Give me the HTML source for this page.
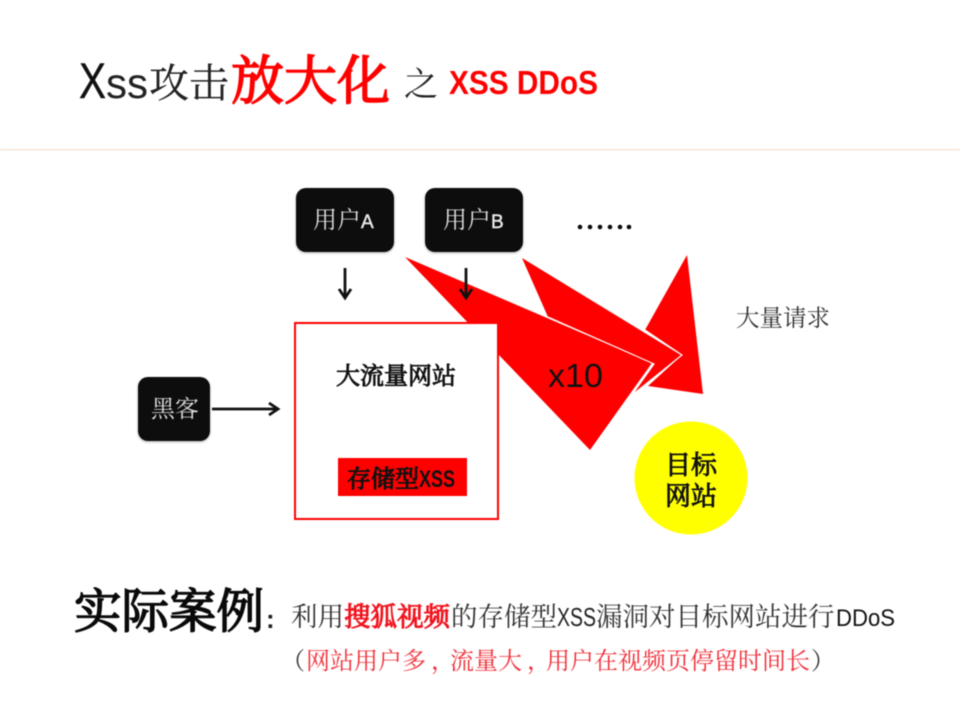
<!DOCTYPE html>
<html><head><meta charset="utf-8">
<style>
html,body{margin:0;padding:0;background:#fff}
#p{position:relative;width:960px;height:720px;overflow:hidden;background:#fff;filter:blur(0.55px)}
svg{position:absolute;left:0;top:0}
text{font-family:"Liberation Sans","Noto Serif CJK SC",serif}
.s{font-family:"Liberation Sans","Noto Sans CJK SC",sans-serif}
.r{fill:#f00}
</style></head><body><div id="p">
<svg width="960" height="720" viewBox="0 0 960 720" xmlns="http://www.w3.org/2000/svg">
<defs><filter id="sh" x="-20%" y="-20%" width="140%" height="140%"><feDropShadow dx="0" dy="1" stdDeviation="1.2" flood-color="#000" flood-opacity=".3"/></filter></defs>
<rect x="0" y="149" width="960" height="1.5" fill="#f6e6d6"/>

<!-- title -->
<text y="98" font-size="50" x="79" class="s" fill="#111" stroke="#111" stroke-width=".4" textLength="27" lengthAdjust="spacingAndGlyphs">X</text>
<text y="98" font-size="43" x="106" class="s" fill="#222" textLength="42" lengthAdjust="spacingAndGlyphs">ss</text>
<text y="97" font-size="40" x="149" fill="#222" stroke="#222" stroke-width=".25">攻击</text>
<text y="99" font-size="53" x="231" class="r" stroke="#f00" stroke-width="1.6">放大化</text>
<text y="96" font-size="34" x="404" fill="#222">之</text>
<text y="94" font-size="33" x="449" class="r s" font-weight="700" textLength="149" lengthAdjust="spacingAndGlyphs">XSS DDoS</text>

<!-- red arrows -->
<polygon points="687,255 703,394 648,386 682,355 645,330" fill="#f00"/>
<polygon points="522,258 681,355 632,395 654,364 548,317" fill="#f00"/>
<polyline points="645,330 682,355 632,395" fill="none" stroke="#fff" stroke-width="1.1"/>
<polygon points="405,257 652,363 590,450" fill="#f00"/>
<polyline points="548,317 654,364 632,395" fill="none" stroke="#fff" stroke-width="1.1"/>

<!-- nodes -->
<rect x="296" y="188" width="98" height="64" rx="10" fill="#0c0c0c" filter="url(#sh)"/>
<rect x="425" y="188" width="98" height="64" rx="10" fill="#0c0c0c" filter="url(#sh)"/>
<rect x="138" y="377" width="72" height="64" rx="10" fill="#0c0c0c" filter="url(#sh)"/>
<text x="313" y="228" font-size="24" fill="#ddd">用户</text>
<text x="361" y="228" font-size="19" class="s" fill="#eee" stroke="#eee" stroke-width=".4">A</text>
<text x="443" y="228" font-size="24" fill="#ddd">用户</text>
<text x="491" y="228" font-size="19" class="s" fill="#eee" stroke="#eee" stroke-width=".4">B</text>
<text x="151" y="417" font-size="24" fill="#ddd">黑客</text>

<g fill="#0a0a0a">
<circle cx="580" cy="227" r="2.3"/><circle cx="590" cy="227" r="2.3"/><circle cx="600" cy="227" r="2.3"/><circle cx="610" cy="227" r="2.3"/><circle cx="620" cy="227" r="2.3"/><circle cx="629" cy="227" r="2.3"/>
</g>

<!-- black arrows -->
<g fill="none" stroke="#111" stroke-width="2.8">
<path d="M345 268V298M339 289L345 298L351 289"/>
<path d="M466 268V298M460 289L466 298L472 289"/>
<path d="M212 409H278M269 403L278 409L269 415"/>
</g>

<!-- site box -->
<rect x="295" y="323" width="203" height="196" fill="#fff" stroke="#f00" stroke-width="2"/>
<text x="336" y="384" font-size="24" fill="#111" stroke="#111" stroke-width=".9">大流量网站</text>
<rect x="338" y="458" width="129" height="38" fill="#f00"/>
<text x="347" y="487" font-size="24" fill="#111" stroke="#111" stroke-width="1">存储型</text>
<text x="419" y="487" font-size="24" class="s" fill="#111" font-weight="700" textLength="36" lengthAdjust="spacingAndGlyphs">XSS</text>

<text x="548" y="387" font-size="33" class="s" fill="#111" textLength="55" lengthAdjust="spacingAndGlyphs">x10</text>
<text x="736" y="326" font-size="23.5" fill="#333">大量请求</text>

<!-- target -->
<circle cx="691" cy="478" r="56.5" fill="#ff0"/>
<text x="665" y="474" font-size="26" fill="#111" stroke="#111" stroke-width=".9">目标</text>
<text x="665" y="505" font-size="26" fill="#111" stroke="#111" stroke-width=".9">网站</text>

<!-- bottom -->
<text x="74" y="628" font-size="47.5" fill="#0a0a0a" stroke="#0a0a0a" stroke-width="1.5">实际案例</text>
<text x="266" y="628" font-size="26" fill="#222" font-weight="700">:</text>
<text x="291" y="626" font-size="26.5" fill="#333">利用</text>
<text x="344" y="626" font-size="26.5" fill="#f0141e" stroke="#f0141e" stroke-width="1">搜狐视频</text>
<text x="451" y="626" font-size="26.5" fill="#333">的存储型</text>
<text x="557" y="626" font-size="26" class="s" fill="#222" textLength="39" lengthAdjust="spacingAndGlyphs">XSS</text>
<text x="596" y="626" font-size="26.5" fill="#333">漏洞对目标网站进行</text>
<text x="836" y="626" font-size="24" class="s" fill="#111" textLength="59" lengthAdjust="spacingAndGlyphs">DDoS</text>

<text x="281" y="669" font-size="24" fill="#333">（</text>
<text x="306" y="669" font-size="24" fill="#f0303a">网站用户多<tspan dx="5">，</tspan><tspan dx="-5">流量大</tspan><tspan dx="5">，</tspan><tspan dx="-5">用户在视频页停留时间长</tspan></text>
<text x="811" y="669" font-size="24" fill="#333">）</text>
</svg>
</div></body></html>
